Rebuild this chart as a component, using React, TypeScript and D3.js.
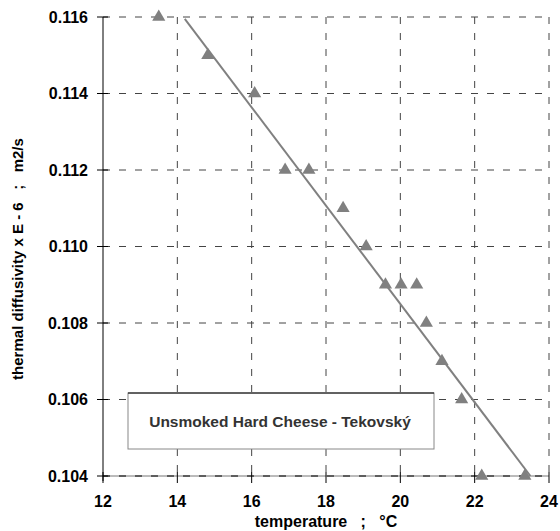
import React from "react";
import * as d3 from "d3";

const temperature = [13.5, 14.82, 16.08, 16.9, 17.54, 18.46, 19.08, 19.6, 20.02, 20.44, 20.7, 21.12, 21.65, 22.19, 23.35];
const diffusivity = [0.116, 0.115, 0.114, 0.112, 0.112, 0.111, 0.110, 0.109, 0.109, 0.109, 0.108, 0.107, 0.106, 0.104, 0.104];
const trendX = [14.2, 23.5];
const trendY = [0.11595, 0.104];
const xTicks = [12, 14, 16, 18, 20, 22, 24];
const yTicks = [0.104, 0.106, 0.108, 0.110, 0.112, 0.114, 0.116];
const legendLabel = "Unsmoked Hard Cheese - Tekovský";
const xTitle = "temperature   ;   °C";
const yTitle = "thermal diffusivity x E - 6   ;   m2/s";

export default function App() {
  const W = 560, H = 531;
  const x = d3.scaleLinear().domain([12, 24]).range([103, 549]);
  const y = d3.scaleLinear().domain([0.104, 0.116]).range([476, 17]);
  const tri = d3.symbol().type(d3.symbolTriangle).size(75)() as string;
  const font = "'Liberation Sans', Arial, sans-serif";
  const line = d3.line<number>().x((d) => x(d)).y((d, i) => y(trendY[i]));
  return (
    <svg width={W} height={H} style={{ position: "absolute", left: 0, top: 0, background: "#fff" }} fontFamily={font}>
      {xTicks.slice(1).map((t) => (
        <line key={"gx" + t} x1={x(t)} x2={x(t)} y1={y(0.116)} y2={y(0.104)} stroke="#444" strokeDasharray="7,9" />
      ))}
      {yTicks.slice(1).map((t) => (
        <line key={"gy" + t} x1={x(12)} x2={x(24)} y1={y(t)} y2={y(t)} stroke="#444" strokeDasharray="7,9" />
      ))}
      <line x1={x(12)} x2={x(24)} y1={y(0.104)} y2={y(0.104)} stroke="#777" />
      <line x1={x(12)} x2={x(24)} y1={y(0.104)} y2={y(0.104)} stroke="#000" strokeDasharray="7,9" />
      <line x1={x(12)} x2={x(12)} y1={y(0.116)} y2={y(0.104) + 5} stroke="#000" />
      {yTicks.map((t) => (
        <g key={"yt" + t}>
          <line x1={x(12) - 6} x2={x(12) + 5} y1={y(t)} y2={y(t)} stroke="#000" />
          <text x={88} y={y(t)} dy="0.36em" textAnchor="end" fontSize={16} fontWeight="bold">{d3.format(".3f")(t)}</text>
        </g>
      ))}
      {xTicks.map((t) => (
        <g key={"xt" + t}>
          <line x1={x(t)} x2={x(t)} y1={y(0.104) - 4} y2={y(0.104) + 7} stroke="#000" />
          <text x={x(t)} y={507} textAnchor="middle" fontSize={16} fontWeight="bold">{t}</text>
        </g>
      ))}
      <rect x={128} y={393} width={306} height={56} fill="#fff" stroke="#888" />
      <line x1={128} x2={434} y1={393} y2={393} stroke="#000" />
      <text x={280} y={427} textAnchor="middle" fontSize={15.5} fontWeight="bold" fill="#333">{legendLabel}</text>
      <path d={line(trendX) as string} stroke="#808080" strokeWidth={2} fill="none" />
      {temperature.map((t, i) => (
        <path key={"p" + i} d={tri} transform={`translate(${x(t)},${y(diffusivity[i])})`} fill="#808080" />
      ))}
      <text x={326} y={527} textAnchor="middle" fontSize={16} fontWeight="bold" style={{ whiteSpace: "pre" }}>{xTitle}</text>
      <text transform={`translate(23,259) rotate(-90)`} textAnchor="middle" fontSize={15} fontWeight="bold" style={{ whiteSpace: "pre" }}>{yTitle}</text>
    </svg>
  );
}
